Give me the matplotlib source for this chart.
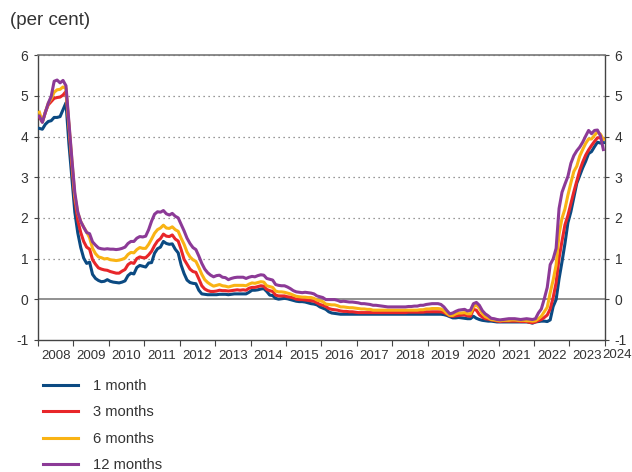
import numpy as np
import matplotlib
matplotlib.use("Agg")
import matplotlib.pyplot as plt

plt.rcParams['font.family'] = ['Liberation Sans', 'DejaVu Sans']
plt.rcParams['axes.unicode_minus'] = False

# Monthly averages, Jan 2008 - Dec 2023 (per cent)
m1 = [4.20, 4.18, 4.30, 4.37, 4.39, 4.47, 4.47, 4.49, 4.66, 4.83, 3.82, 2.99,
      2.14, 1.63, 1.27, 1.01, 0.88, 0.91, 0.61, 0.51, 0.46, 0.43, 0.44, 0.48,
      0.44, 0.42, 0.41, 0.40, 0.42, 0.45, 0.58, 0.64, 0.62, 0.78, 0.83, 0.81,
      0.79, 0.89, 0.90, 1.13, 1.24, 1.28, 1.42, 1.37, 1.35, 1.36, 1.23, 1.14,
      0.84, 0.63, 0.47, 0.41, 0.39, 0.38, 0.22, 0.13, 0.12, 0.11, 0.11, 0.11,
      0.11, 0.12, 0.12, 0.12, 0.11, 0.12, 0.13, 0.13, 0.13, 0.13, 0.13, 0.17,
      0.22, 0.22, 0.23, 0.25, 0.26, 0.19, 0.10, 0.09, 0.02, 0.00, 0.01, 0.02,
      0.01, -0.01, -0.03, -0.05, -0.06, -0.06, -0.07, -0.09, -0.11, -0.12, -0.14, -0.19,
      -0.22, -0.25, -0.31, -0.34, -0.35, -0.36, -0.37, -0.37, -0.37, -0.37, -0.37, -0.37,
      -0.37, -0.37, -0.37, -0.37, -0.37, -0.37, -0.37, -0.37, -0.37, -0.37, -0.37, -0.37,
      -0.37, -0.37, -0.37, -0.37, -0.37, -0.37, -0.37, -0.37, -0.37, -0.37, -0.37, -0.37,
      -0.37, -0.37, -0.37, -0.37, -0.37, -0.38, -0.40, -0.43, -0.46, -0.46, -0.45, -0.46,
      -0.47, -0.48, -0.48, -0.42, -0.47, -0.50, -0.52, -0.53, -0.54, -0.54, -0.55, -0.56,
      -0.56, -0.56, -0.56, -0.56, -0.56, -0.56, -0.56, -0.56, -0.56, -0.56, -0.57, -0.59,
      -0.56, -0.55, -0.54, -0.54, -0.55, -0.51, -0.18, -0.01, 0.50, 0.92, 1.37, 1.88,
      2.15, 2.50, 2.85, 3.04, 3.23, 3.39, 3.58, 3.63, 3.75, 3.86, 3.84, 3.85]

m3 = [4.48, 4.36, 4.60, 4.78, 4.86, 4.94, 4.96, 4.97, 5.02, 5.11, 4.24, 3.29,
      2.46, 1.94, 1.64, 1.42, 1.28, 1.23, 0.97, 0.86, 0.77, 0.74, 0.72, 0.71,
      0.68, 0.66, 0.64, 0.64, 0.69, 0.73, 0.85, 0.90, 0.88, 1.00, 1.04, 1.02,
      1.02, 1.09, 1.18, 1.32, 1.43, 1.49, 1.60, 1.55, 1.54, 1.58, 1.48, 1.43,
      1.22, 0.98, 0.86, 0.74, 0.68, 0.66, 0.50, 0.33, 0.25, 0.21, 0.19, 0.19,
      0.20, 0.22, 0.21, 0.21, 0.20, 0.21, 0.22, 0.23, 0.22, 0.23, 0.22, 0.27,
      0.29, 0.29, 0.31, 0.33, 0.32, 0.24, 0.21, 0.19, 0.10, 0.08, 0.08, 0.08,
      0.06, 0.05, 0.03, 0.00, -0.01, -0.01, -0.02, -0.03, -0.04, -0.05, -0.09, -0.13,
      -0.15, -0.18, -0.23, -0.25, -0.26, -0.27, -0.29, -0.30, -0.30, -0.31, -0.31, -0.32,
      -0.33, -0.33, -0.33, -0.33, -0.33, -0.33, -0.33, -0.33, -0.33, -0.33, -0.33, -0.33,
      -0.33, -0.33, -0.33, -0.33, -0.33, -0.32, -0.32, -0.32, -0.32, -0.32, -0.32, -0.31,
      -0.31, -0.31, -0.31, -0.31, -0.31, -0.33, -0.37, -0.41, -0.42, -0.41, -0.40, -0.39,
      -0.39, -0.41, -0.42, -0.25, -0.27, -0.38, -0.44, -0.48, -0.49, -0.51, -0.52, -0.54,
      -0.55, -0.54, -0.54, -0.54, -0.54, -0.54, -0.54, -0.55, -0.55, -0.55, -0.57, -0.58,
      -0.56, -0.53, -0.50, -0.45, -0.39, -0.24, 0.04, 0.40, 1.01, 1.43, 1.83, 2.06,
      2.35, 2.64, 2.91, 3.17, 3.37, 3.54, 3.67, 3.78, 3.88, 3.97, 3.97, 3.94]

m6 = [4.60, 4.36, 4.59, 4.82, 4.93, 5.09, 5.15, 5.16, 5.22, 5.18, 4.29, 3.37,
      2.54, 2.13, 1.91, 1.77, 1.65, 1.51, 1.25, 1.12, 1.04, 1.02, 0.99, 1.00,
      0.97, 0.96, 0.95, 0.96, 0.98, 1.01, 1.10, 1.15, 1.14, 1.22, 1.27, 1.25,
      1.25, 1.35, 1.48, 1.62, 1.71, 1.75, 1.82, 1.75, 1.74, 1.78, 1.71, 1.67,
      1.50, 1.35, 1.16, 1.04, 0.97, 0.93, 0.78, 0.61, 0.48, 0.41, 0.36, 0.32,
      0.34, 0.36, 0.33, 0.32, 0.30, 0.32, 0.34, 0.34, 0.34, 0.34, 0.33, 0.37,
      0.40, 0.39, 0.41, 0.43, 0.42, 0.33, 0.31, 0.29, 0.20, 0.18, 0.18, 0.17,
      0.15, 0.13, 0.10, 0.07, 0.06, 0.05, 0.05, 0.04, 0.04, 0.02, -0.02, -0.04,
      -0.06, -0.12, -0.13, -0.14, -0.14, -0.16, -0.19, -0.19, -0.20, -0.21, -0.21, -0.22,
      -0.23, -0.24, -0.24, -0.25, -0.25, -0.27, -0.27, -0.27, -0.27, -0.27, -0.27, -0.27,
      -0.27, -0.27, -0.27, -0.27, -0.27, -0.27, -0.27, -0.27, -0.27, -0.26, -0.26, -0.24,
      -0.24, -0.23, -0.23, -0.23, -0.24, -0.28, -0.35, -0.40, -0.40, -0.36, -0.34, -0.34,
      -0.33, -0.36, -0.36, -0.19, -0.14, -0.22, -0.35, -0.43, -0.46, -0.50, -0.51, -0.52,
      -0.53, -0.52, -0.52, -0.52, -0.51, -0.51, -0.52, -0.52, -0.52, -0.53, -0.53, -0.54,
      -0.53, -0.48, -0.42, -0.31, -0.20, 0.16, 0.47, 0.84, 1.60, 1.99, 2.22, 2.56,
      2.86, 3.14, 3.27, 3.52, 3.68, 3.83, 3.94, 3.94, 4.03, 4.11, 4.06, 3.93]

m12 = [4.50, 4.35, 4.59, 4.82, 4.99, 5.36, 5.39, 5.32, 5.38, 5.25, 4.35, 3.45,
       2.62, 2.14, 1.91, 1.77, 1.64, 1.61, 1.41, 1.33, 1.26, 1.24, 1.23, 1.24,
       1.23, 1.23, 1.22, 1.23, 1.25, 1.28, 1.37, 1.42, 1.42, 1.50, 1.54, 1.53,
       1.55, 1.71, 1.92, 2.09, 2.15, 2.14, 2.18, 2.10, 2.07, 2.11, 2.04, 2.00,
       1.84, 1.68, 1.50, 1.37, 1.27, 1.22, 1.06, 0.88, 0.74, 0.65, 0.59, 0.55,
       0.58, 0.59, 0.54, 0.53, 0.48, 0.51, 0.53, 0.54, 0.54, 0.54, 0.51, 0.54,
       0.56, 0.55, 0.58, 0.60, 0.59, 0.51, 0.49, 0.47, 0.36, 0.34, 0.33, 0.33,
       0.30, 0.26, 0.21, 0.18, 0.17, 0.16, 0.17, 0.16, 0.15, 0.13, 0.08, 0.06,
       0.04, -0.01, -0.01, -0.01, -0.01, -0.03, -0.06, -0.05, -0.06, -0.07, -0.07, -0.08,
       -0.09, -0.11, -0.11, -0.12, -0.13, -0.15, -0.15, -0.16, -0.17, -0.18, -0.19, -0.19,
       -0.19, -0.19, -0.19, -0.19, -0.19, -0.18, -0.18, -0.17, -0.17, -0.15, -0.15, -0.13,
       -0.12, -0.11, -0.11, -0.11, -0.13, -0.19, -0.28, -0.36, -0.34, -0.30, -0.27, -0.26,
       -0.25, -0.29, -0.27, -0.11, -0.08, -0.15, -0.28, -0.36, -0.41, -0.47, -0.48, -0.50,
       -0.51, -0.50, -0.49, -0.48, -0.48, -0.48, -0.49, -0.50, -0.49, -0.48, -0.49, -0.50,
       -0.48, -0.34, -0.24, 0.01, 0.29, 0.85, 0.99, 1.25, 2.23, 2.63, 2.83, 3.02,
       3.34, 3.53, 3.65, 3.74, 3.86, 4.01, 4.15, 4.07, 4.15, 4.16, 4.02, 3.68]

labels = ["1 month", "3 months", "6 months", "12 months"]
colors = ["#0b4a82", "#e8262a", "#f9b314", "#8c3a97"]
years = list(range(2008, 2025))

t = 2008 + (np.arange(len(m1)) + 0.5) / 12

fig = plt.figure(figsize=(6.32, 4.72), dpi=100)
ax = fig.add_axes([0.060, 0.280, 0.897, 0.603])

txt = "#333333"
for y in range(1, 7):
    ax.axhline(y, color="#777777", lw=0.9, ls=(0, (1, 3)), zorder=1)
ax.axhline(0, color="#888888", lw=1.3, zorder=1)

lines = []
for s, lab, c in zip([m1, m3, m6, m12], labels, colors):
    ln, = ax.plot(t, s, color=c, lw=2.2, label=lab, zorder=3)
    lines.append(ln)

ax.set_xlim(2008, 2024)
ax.set_ylim(-1, 6)
ax.set_yticks(range(-1, 7))
ax.set_xticks(years)
ax.set_xticklabels([])
ax.set_xticks([y + 0.5 for y in years[:-1]], minor=True)
ax.set_xticklabels([str(y) for y in years[:-1]], minor=True)
ax.tick_params(axis="x", which="major", direction="out", length=4, color="#444444")
ax.tick_params(axis="x", which="minor", length=0, pad=7, labelsize=9.5, labelcolor=txt)
ax.tick_params(axis="y", direction="out", length=3, color="#444444",
               labelsize=10, labelcolor=txt, right=True, labelright=True, pad=4)

# last year label sits past the right edge of the axis
fig.text(0.999, 0.2606, "2024", ha="right", va="top", fontsize=9.5, color=txt)

for side in ["left", "right", "bottom"]:
    ax.spines[side].set_color("#444444")
    ax.spines[side].set_linewidth(1.0)
ax.spines["top"].set_color("#777777")
ax.spines["top"].set_linestyle((0, (1, 1)))
ax.spines["top"].set_linewidth(1.2)

fig.text(0.016, 0.957, "(per cent)", fontsize=13.5, color=txt, va="center", ha="left")

fig.legend(handles=lines, loc="upper left", bbox_to_anchor=(0.058, 0.21),
           frameon=False, fontsize=10.6, handlelength=2.4, handletextpad=1.0,
           labelspacing=0.85, borderaxespad=0, labelcolor=txt)

fig.savefig("out.png", dpi=100)
